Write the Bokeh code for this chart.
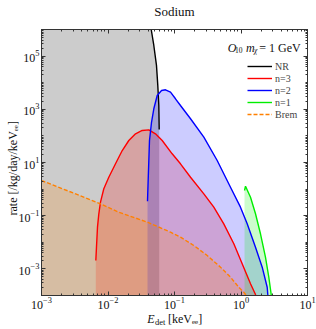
import math
from bokeh.plotting import figure
from bokeh.models import (Range1d, LogAxis, FixedTicker, LogTickFormatter, Label,
                          Legend, LegendItem, CustomJSTickFormatter)
from bokeh.embed import file_html
from bokeh.resources import INLINE

# ---------------- data (E_det in keV_ee, rate in /kg/day/keV_ee) ----------------
nr_E = [0.001, 0.01, 0.0251, 0.0355, 0.04467, 0.04887, 0.05358, 0.05610, 0.05808, 0.05888]
nr_R = [1e11, 3e9, 6e7, 6e6, 1e6, 2.51e5, 4.47e4, 7.76e3, 1.38e3, 174]

n3_E = [0.00656, 0.00671, 0.00695, 0.00728, 0.00771, 0.00865, 0.01028, 0.01297, 0.01637,
        0.02056, 0.02594, 0.03266, 0.04111, 0.05176, 0.06531, 0.09226, 0.1230, 0.1742,
        0.2761, 0.3899, 0.5508, 0.7798, 1.042, 1.390, 1.652, 1.718]
n3_R = [2.07e-3, 6.55e-3, 0.0370, 0.118, 0.322, 1.03, 2.80, 8.93, 28.2,
        67.1, 120, 160, 169, 120, 67.1, 21.2, 8.93, 2.80,
        0.665, 0.209, 0.0495, 8.79e-3, 1.56e-3, 2.75e-4, 1.09e-4, 1e-5]

n2_E = [0.03926, 0.04018, 0.04207, 0.04508, 0.04887, 0.05495, 0.06383, 0.07328, 0.08710,
        0.1035, 0.1230, 0.1742, 0.2761, 0.4385, 0.6950, 0.9817, 1.239, 1.652, 2.084,
        2.477, 2.529, 2.570]
n2_R = [0.351, 2.10, 67.1, 319, 1045, 3304, 5093, 5408, 4395,
        2483, 1390, 440, 89.3, 11.9, 1.18, 0.209, 0.0495, 6.55e-3, 1.16e-3,
        2.05e-4, 1.09e-4, 1e-5]

n1_E = [1.130, 1.169, 1.390, 1.652, 1.963, 2.333, 2.618, 2.844, 2.884]
n1_R = [0.885, 1.285, 0.495, 0.118, 0.0209, 2.75e-3, 4.88e-4, 1.09e-4, 1e-5]

brem_E = [0.001, 0.004592, 0.007709, 0.01452, 0.03926, 0.08710, 0.1230, 0.1950, 0.3105,
          0.4920, 0.6950, 0.9268, 1.102, 1.169, 1.202]
brem_R = [2.10, 0.471, 0.280, 0.1355, 0.0570, 0.0240, 0.01556, 7.59e-3, 3.19e-3,
          1.16e-3, 4.88e-4, 2.05e-4, 1.33e-4, 1.09e-4, 1e-5]

series_labels = ["NR", "n=3", "n=2", "n=1", "Brem"]
x_major = [1e-3, 1e-2, 1e-1, 1, 10]
y_major = [1e-3, 1e-1, 1e1, 1e3, 1e5]

# ---------------- figure ----------------
SERIF = "Liberation Serif"
AX = "#333333"
W, H = 316, 329

p = figure(width=W, height=H, x_axis_type="log", y_axis_type="log",
           x_range=Range1d(1e-3, 10), y_range=Range1d(1e-4, 1e6),
           output_backend="svg", toolbar_location=None,
           min_border_left=41, min_border_right=9, min_border_top=29, min_border_bottom=34)
p.grid.visible = False
p.outline_line_color = AX
p.background_fill_color = "white"
p.border_fill_color = "white"

x_minor = [k * 10.0 ** n for n in range(-3, 1) for k in range(1, 10)] + [10]
y_minor = [k * 10.0 ** n for n in range(-4, 6) for k in range(1, 10)] + [1e6]


def style_axis(ax, ticker, show):
    ax.ticker = ticker
    ax.formatter = LogTickFormatter() if show else CustomJSTickFormatter(code="return ''")
    ax.major_tick_in = 4
    ax.major_tick_out = 0
    ax.minor_tick_in = 2
    ax.minor_tick_out = 0
    ax.axis_line_color = AX
    ax.major_tick_line_color = AX
    ax.minor_tick_line_color = AX
    ax.major_label_text_font = SERIF
    ax.major_label_text_color = "#111111"
    ax.major_label_text_font_size = "12px" if show else "1px"
    ax.major_label_standoff = 2 if show else 0
    ax.axis_label = None


xt = FixedTicker(ticks=x_major, minor_ticks=x_minor)
yt = FixedTicker(ticks=y_major, minor_ticks=y_minor)
style_axis(p.xaxis[0], xt, True)
style_axis(p.yaxis[0], yt, True)
p.xaxis[0].major_label_standoff = 1
top_ax = LogAxis()
right_ax = LogAxis()
style_axis(top_ax, FixedTicker(ticks=x_major, minor_ticks=x_minor), False)
style_axis(right_ax, FixedTicker(ticks=y_major, minor_ticks=y_minor), False)
p.add_layout(top_ax, "above")
p.add_layout(right_ax, "right")

FLOOR = 1e-6


def fill(E, R, color):
    xs = list(E) + [E[-1], E[0]]
    ys = list(R) + [FLOOR, FLOOR]
    p.patch(xs, ys, fill_color=color, fill_alpha=0.2, line_color=None)


c_nr, c_n3, c_n2, c_n1, c_br = "black", "#ff0000", "#0000ff", "#00ee00", "#ff8000"

fill(nr_E, nr_R, c_nr)
fill(n3_E, n3_R, c_n3)
fill(n2_E, n2_R, c_n2)
fill(n1_E, n1_R, c_n1)
fill(brem_E, brem_R, c_br)

lw = 1.4
r_nr = p.line(nr_E, nr_R, line_color=c_nr, line_width=lw)
r_n3 = p.line(n3_E, n3_R, line_color=c_n3, line_width=lw)
r_n2 = p.line(n2_E, n2_R, line_color=c_n2, line_width=lw)
r_n1 = p.line(n1_E, n1_R, line_color=c_n1, line_width=lw)
r_br = p.line(brem_E, brem_R, line_color=c_br, line_width=lw, line_dash="4 2")

legend = Legend(items=[LegendItem(label=l, renderers=[r]) for l, r in
                       zip(series_labels, [r_nr, r_n3, r_n2, r_n1, r_br])],
                location=(206, 175), padding=0, margin=0, spacing=0,
                glyph_width=25, glyph_height=12, label_height=12, label_standoff=3,
                label_text_font=SERIF, label_text_font_size="10px",
                border_line_color=None, background_fill_alpha=0)
p.add_layout(legend)


# ---------------- text placed by canvas pixel position (top-down) ----------------
def txt(px, py, s, size, style="normal", align="left", angle=0.0, side="center"):
    p.add_layout(Label(x=px, y=py, x_units="canvas", y_units="canvas",
                       text=s, text_font=SERIF,
                       text_font_size=f"{size}px", text_font_style=style,
                       text_align=align, text_baseline="alphabetic",
                       text_color="#111111", angle=angle), side)


# title
txt(174, 10.5, "Sodium", 13, align="center", side="above")
# operator / mass annotation (inside the frame)
txt(227.3, 47, "O", 12, "italic")
txt(234.5, 49.5, "10", 7.5)
txt(245.5, 47, "m", 12, "italic")
txt(253.5, 49.5, "\u03c7", 7.5, "italic")
txt(258.8, 47, "= 1 GeV", 12)
# x axis label: E_det [keV_ee]
txt(146.7, 318.5, "E", 12, "italic", side="right")
txt(154.5, 321, "det", 8.5, side="above")
txt(167.5, 318.5, "[keV\u2091\u2091]", 12, side="below")
# y axis label (rotated)
A = math.pi / 2
txt(12, 215, "rate [/kg/day/keV\u2091\u2091]", 12, angle=A, side="left")

open("out.html", "w").write(file_html(p, INLINE))
